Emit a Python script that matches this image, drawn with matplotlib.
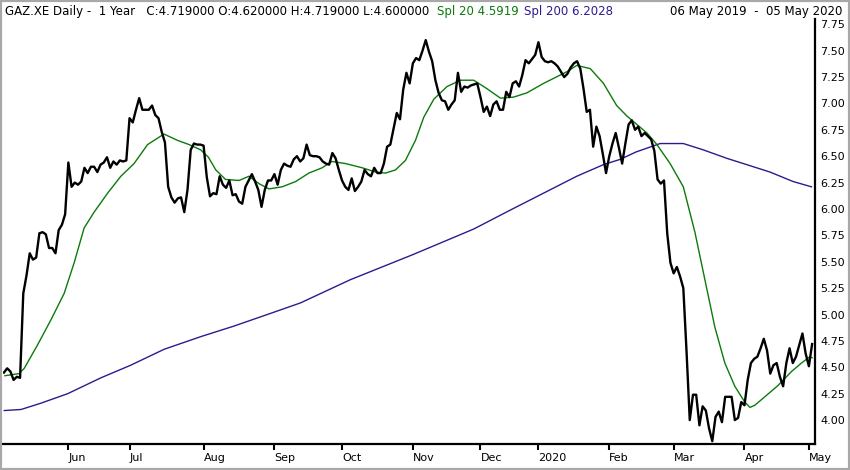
import numpy as np
import pandas as pd
import matplotlib
matplotlib.use("Agg")
import matplotlib.pyplot as plt
from matplotlib.patches import Rectangle

# daily closes, one per trading day, 06 May 2019 -> 05 May 2020
close = [
    4.45, 4.49, 4.46, 4.38, 4.41, 4.40, 5.20, 5.37, 5.58, 5.52,
    5.54, 5.77, 5.78, 5.76, 5.63, 5.63, 5.58, 5.80, 5.85, 5.95,
    6.44, 6.21, 6.25, 6.23, 6.26, 6.39, 6.34, 6.40, 6.40, 6.35,
    6.42, 6.44, 6.49, 6.39, 6.45, 6.42, 6.46, 6.45, 6.46, 6.86,
    6.82, 6.94, 7.05, 6.94, 6.94, 6.94, 6.98, 6.89, 6.86, 6.73,
    6.63, 6.21, 6.11, 6.06, 6.10, 6.11, 5.97, 6.18, 6.56, 6.62,
    6.61, 6.61, 6.60, 6.30, 6.12, 6.15, 6.14, 6.31, 6.23, 6.20,
    6.27, 6.13, 6.14, 6.07, 6.05, 6.21, 6.27, 6.33, 6.26, 6.18,
    6.02, 6.18, 6.27, 6.27, 6.33, 6.23, 6.37, 6.43, 6.41, 6.40,
    6.47, 6.50, 6.45, 6.48, 6.61, 6.51, 6.50, 6.50, 6.49, 6.45,
    6.43, 6.42, 6.53, 6.48, 6.37, 6.27, 6.21, 6.18, 6.29, 6.17,
    6.21, 6.26, 6.37, 6.33, 6.31, 6.39, 6.34, 6.34, 6.43, 6.59,
    6.61, 6.76, 6.91, 6.85, 7.13, 7.29, 7.19, 7.38, 7.43, 7.41,
    7.50, 7.60, 7.49, 7.40, 7.22, 7.10, 7.03, 7.02, 6.94, 6.99,
    7.03, 7.29, 7.11, 7.16, 7.15, 7.17, 7.18, 7.19, 7.06, 6.92,
    6.97, 6.88, 6.99, 7.02, 6.94, 6.94, 7.11, 7.06, 7.19, 7.21,
    7.16, 7.27, 7.41, 7.38, 7.42, 7.46, 7.58, 7.44, 7.40, 7.39,
    7.40, 7.38, 7.35, 7.30, 7.25, 7.28, 7.34, 7.38, 7.40, 7.33,
    7.14, 6.92, 6.94, 6.59, 6.78, 6.69, 6.52, 6.34, 6.50, 6.62,
    6.72, 6.58, 6.43, 6.62, 6.80, 6.84, 6.75, 6.78, 6.69, 6.72,
    6.69, 6.66, 6.55, 6.28, 6.24, 6.27, 5.77, 5.49, 5.39, 5.45,
    5.36, 5.25, 4.65, 4.00, 4.24, 4.24, 3.95, 4.13, 4.09, 3.92,
    3.80, 4.03, 4.08, 3.98, 4.22, 4.22, 4.22, 4.00, 4.02, 4.17,
    4.14, 4.38, 4.54, 4.58, 4.60, 4.68, 4.77, 4.66, 4.44, 4.52,
    4.54, 4.41, 4.32, 4.54, 4.68, 4.54, 4.60, 4.71, 4.82, 4.63,
    4.51, 4.72,
]

# 20-day average (trading-day index, value)
sma20_day = [0.3, 4.7, 6.3, 10.4, 14.6, 18.7, 21.8, 24.9, 28.0, 32.2,
             36.3, 40.4, 44.6, 49.7, 53.9, 57.5, 61.1, 63.5, 65.8, 68.8,
             73.0, 76.1, 79.2, 82.3, 86.4, 90.6, 94.7, 98.8, 101.9, 106.1,
             111.3, 115.4, 118.5, 121.6, 124.7, 127.8, 130.4, 133.5, 137.6, 141.8,
             145.9, 150.0, 154.2, 158.3, 162.4, 167.6, 174.8, 177.9, 182.1, 186.2,
             190.3, 193.5, 199.7, 202.8, 206.9, 211.0, 214.6, 217.7, 220.8, 223.9,
             227.0, 230.1, 231.7, 233.2, 236.3, 240.5, 244.6, 247.7, 250.3, 251.0]
sma20_val = [4.42, 4.44, 4.49, 4.71, 4.95, 5.20, 5.49, 5.82, 5.97, 6.15,
             6.31, 6.43, 6.61, 6.71, 6.65, 6.61, 6.56, 6.49, 6.37, 6.28,
             6.27, 6.31, 6.24, 6.19, 6.21, 6.26, 6.34, 6.39, 6.45, 6.43,
             6.39, 6.35, 6.34, 6.37, 6.46, 6.65, 6.87, 7.04, 7.16, 7.22,
             7.22, 7.14, 7.05, 7.06, 7.10, 7.19, 7.30, 7.36, 7.33, 7.19,
             6.98, 6.88, 6.72, 6.61, 6.43, 6.21, 5.78, 5.33, 4.88, 4.54,
             4.32, 4.17, 4.12, 4.14, 4.22, 4.33, 4.46, 4.54, 4.60, 4.59]

# 200-day average
sma200_day = [0.1, 5.3, 11.5, 19.8, 30.1, 39.4, 49.7, 61.1, 71.4, 81.8,
              92.1, 107.6, 127.2, 145.9, 157.3, 167.6, 177.9, 186.2, 191.4, 196.3,
              203.8, 211.0, 217.2, 224.5, 230.7, 237.9, 245.1, 250.8]
sma200_val = [4.09, 4.10, 4.16, 4.25, 4.40, 4.52, 4.67, 4.79, 4.89, 5.00,
              5.11, 5.33, 5.57, 5.81, 5.99, 6.15, 6.31, 6.42, 6.47, 6.54,
              6.62, 6.62, 6.56, 6.48, 6.42, 6.35, 6.26, 6.21]

y_ticks = [4.00, 4.25, 4.50, 4.75, 5.00, 5.25, 5.50, 5.75,
           6.00, 6.25, 6.50, 6.75, 7.00, 7.25, 7.50, 7.75]

holidays = ["2019-06-10", "2019-10-03", "2019-12-24", "2019-12-25",
            "2019-12-26", "2019-12-31", "2020-01-01", "2020-04-10",
            "2020-04-13", "2020-05-01"]

GREEN = "#0b7a0b"
PURPLE = "#2e1a8e"

# trading calendar -> month tick positions
days = pd.bdate_range("2019-05-06", "2020-05-05")
days = days[~days.isin(pd.to_datetime(holidays))]
months = days.to_period("M")
tick_pos, tick_lab = [], []
for i in range(1, len(days)):
    if months[i] != months[i - 1]:
        tick_pos.append(i)
        tick_lab.append("2020" if days[i].month == 1 else days[i].strftime("%b"))

fig = plt.figure(figsize=(8.5, 4.7), dpi=100)
ax = fig.add_axes([3 / 850, 1 - 444 / 470, 812 / 850, 425 / 470])

x = np.arange(len(close))
ax.plot(sma200_day, sma200_val, color=PURPLE, lw=1.0)
ax.plot(sma20_day, sma20_val, color=GREEN, lw=1.0)
ax.plot(x, close, color="black", lw=1.7)

ax.set_xlim(-0.3, 251.9)
ax.set_ylim(3.773, 7.80)

for s in ("left", "top"):
    ax.spines[s].set_visible(False)
ax.spines["right"].set_linewidth(1.6)
ax.spines["bottom"].set_linewidth(1.6)

ax.yaxis.tick_right()
ax.set_yticks(y_ticks)
ax.set_yticklabels([f"{v:.2f}" for v in y_ticks])
ax.tick_params(axis="y", length=0, pad=4, labelsize=8)

ax.set_xticks(tick_pos)
ax.set_xticklabels(tick_lab, ha="left")
ax.tick_params(axis="x", direction="out", length=4.5, width=1.5, pad=2, labelsize=8)

# header line, pieces chained one after the other
ty = 1 - 12 / 470
t1 = fig.text(5 / 850, ty, "GAZ.XE Daily -  1 Year   C:4.719000 O:4.620000 H:4.719000 L:4.600000",
              fontsize=8.5, va="center", ha="left")
t2 = fig.text(0, 0, "Spl 20 4.5919", fontsize=8.5, va="center", ha="left", color=GREEN)
t3 = fig.text(0, 0, "Spl 200 6.2028", fontsize=8.5, va="center", ha="left", color=PURPLE)
fig.text(842 / 850, ty, "06 May 2019  -  05 May 2020", fontsize=8.5, va="center", ha="right")

renderer = fig.canvas.get_renderer()
x_next = t1.get_window_extent(renderer).x1 + 8
t2.set_position((x_next / 850, ty))
x_next = t2.get_window_extent(renderer).x1 + 5
t3.set_position((x_next / 850, ty))

fig.patches.append(Rectangle((0, 0), 1, 1, transform=fig.transFigure, fill=False,
                             edgecolor="#a8a8a8", lw=3))

fig.savefig("out.png", dpi=100)
plt.close(fig)
